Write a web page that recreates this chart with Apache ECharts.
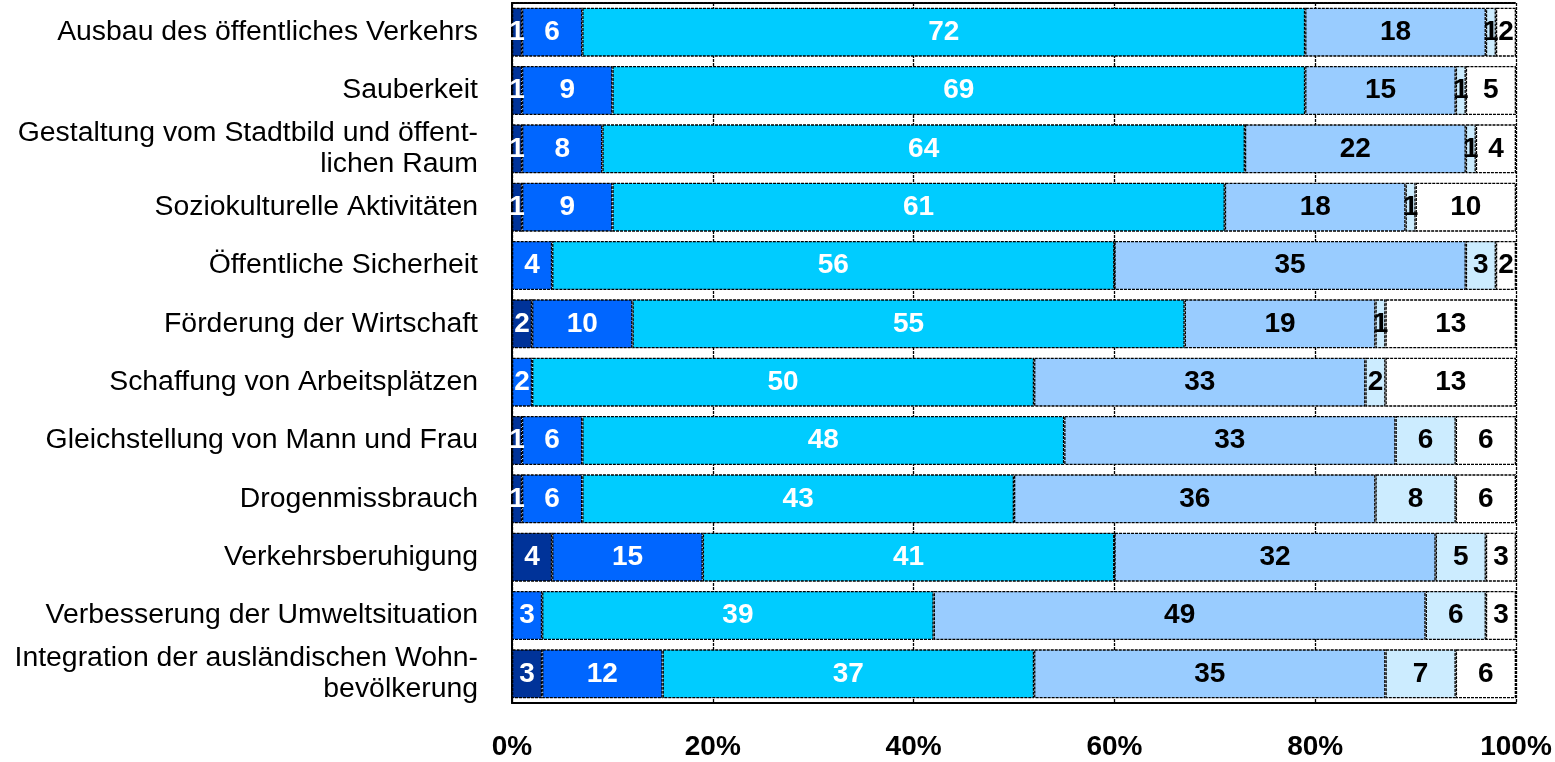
<!DOCTYPE html>
<html>
<head>
<meta charset="utf-8">
<script src="https://cdn.jsdelivr.net/npm/echarts@6/dist/echarts.min.js"></script>
<style>
html,body{margin:0;padding:0;background:#fff;}
#chart{width:1555px;height:762px;}
</style>
</head>
<body>
<div id="chart"></div>
<script>
const categories = [
  'Ausbau des öffentliches Verkehrs',
  'Sauberkeit',
  'Gestaltung vom Stadtbild und öffent-\nlichen Raum',
  'Soziokulturelle Aktivitäten',
  'Öffentliche Sicherheit',
  'Förderung der Wirtschaft',
  'Schaffung von Arbeitsplätzen',
  'Gleichstellung von Mann und Frau',
  'Drogenmissbrauch',
  'Verkehrsberuhigung',
  'Verbesserung der Umweltsituation',
  'Integration der ausländischen Wohn-\nbevölkerung'
];
const s1 = [1, 1, 1, 1, 0, 2, 0, 1, 1, 4, 0, 3];
const s2 = [6, 9, 8, 9, 4, 10, 2, 6, 6, 15, 3, 12];
const s3 = [72, 69, 64, 61, 56, 55, 50, 48, 43, 41, 39, 37];
const s4 = [18, 15, 22, 18, 35, 19, 33, 33, 36, 32, 49, 35];
const s5 = [1, 1, 1, 1, 3, 1, 2, 6, 8, 5, 6, 7];
const s6 = [2, 5, 4, 10, 2, 13, 13, 6, 6, 3, 3, 6];
const xTicks = [0, 20, 40, 60, 80, 100];

const seriesData = [s1, s2, s3, s4, s5, s6];
const colors = ['#003399', '#0066FF', '#00CCFF', '#99CCFF', '#CCECFF', '#FFFFFF'];
const labelColors = ['#fff', '#fff', '#fff', '#000', '#000', '#000'];
const font = 'Arial, "Liberation Sans", sans-serif';

const chart = echarts.init(document.getElementById('chart'), null, {renderer: 'canvas'});
chart.setOption({
  animation: false,
  backgroundColor: '#fff',
  grid: {left: 512, right: 39, top: 3, bottom: 59, containLabel: false},
  xAxis: [{
    type: 'value', min: 0, max: 100, interval: 20,
    axisLine: {show: true, lineStyle: {color: '#000', width: 2}},
    axisTick: {show: false},
    splitLine: {show: true, lineStyle: {color: '#000', width: 1.3, type: [3, 1]}},
    axisLabel: {
      margin: 30, color: '#000', fontFamily: font, fontSize: 28, fontWeight: 'bold',
      formatter: v => xTicks.indexOf(v) >= 0 ? v + '%' : ''
    }
  }, {
    type: 'value', min: 0, max: 100, position: 'top',
    axisLine: {show: true, lineStyle: {color: '#000', width: 2, type: [3, 1]}},
    axisTick: {show: false}, axisLabel: {show: false}, splitLine: {show: false}
  }],
  yAxis: {
    type: 'category', data: categories, inverse: true,
    axisLine: {show: true, lineStyle: {color: '#000', width: 2}},
    axisTick: {show: false},
    axisLabel: {
      margin: 34, color: '#000', fontFamily: font, fontSize: 28.4, lineHeight: 31, align: 'right'
    }
  },
  series: seriesData.map((d, i) => ({
    type: 'bar', name: 'S' + (i + 1), stack: 'total', data: d,
    xAxisIndex: 0,
    barWidth: 49,
    itemStyle: {color: colors[i], borderColor: '#000', borderWidth: 1.3, borderType: [3, 1]},
    label: {
      show: true, position: 'inside', color: labelColors[i],
      fontFamily: font, fontSize: 28, fontWeight: 'bold',
      formatter: p => p.value === 0 ? '' : String(p.value)
    }
  }))
});
</script>
</body>
</html>
